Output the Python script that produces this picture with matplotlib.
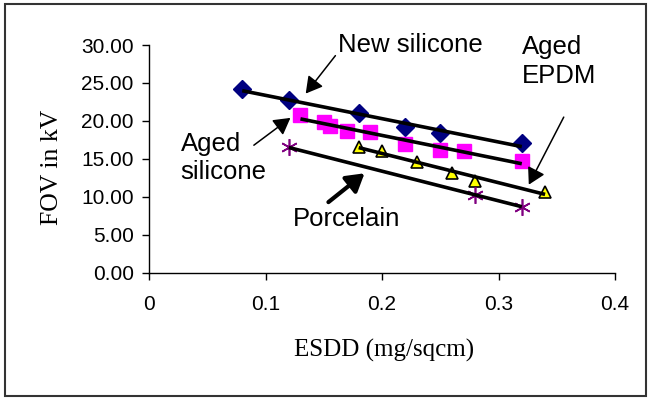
import numpy as np
import matplotlib
matplotlib.use("Agg")
import matplotlib.pyplot as plt
from matplotlib.patches import Rectangle

# FOV vs ESDD
new_sil_x = [0.08, 0.12, 0.18, 0.22, 0.25, 0.32]
new_sil_y = [24.2, 22.8, 21.0, 19.2, 18.4, 17.1]

aged_sil_x = [0.13, 0.15, 0.155, 0.17, 0.19, 0.22, 0.25, 0.27, 0.32]
aged_sil_y = [20.8, 19.8, 19.3, 18.7, 18.5, 17.0, 16.2, 16.1, 14.7]

epdm_x = [0.18, 0.20, 0.23, 0.26, 0.28, 0.34]
epdm_y = [16.5, 16.0, 14.6, 13.2, 12.1, 10.7]

porc_x = [0.12, 0.28, 0.32]
porc_y = [16.5, 10.25, 8.7]

x_ticks = [0, 0.1, 0.2, 0.3, 0.4]
x_tick_labels = ["0", "0.1", "0.2", "0.3", "0.4"]
y_ticks = [0, 5, 10, 15, 20, 25, 30]

SANS = "Liberation Sans"
SERIF = "Liberation Serif"

fig = plt.figure(figsize=(6.51, 3.99), dpi=100)
ax = fig.add_axes([0.2289, 0.3165, 0.7158, 0.5707])

# markers
ax.plot(new_sil_x, new_sil_y, ls="none", marker="D", ms=9,
        mfc="#000080", mec="#000080", zorder=3)
ax.plot(aged_sil_x, aged_sil_y, ls="none", marker="s", ms=9.5,
        mfc="#ff00ff", mec="#ff00ff", zorder=3)
ax.plot(epdm_x, epdm_y, ls="none", marker="^", ms=8.5,
        mfc="#ffff00", mec="black", mew=1.2, zorder=3)
ax.plot(porc_x, porc_y, ls="none", marker=(6, 2, 0), ms=12,
        mec="#800080", mew=1.2, zorder=3)

# linear trendlines over each series' range
for xs, ys in [(new_sil_x, new_sil_y), (aged_sil_x, aged_sil_y),
               (epdm_x, epdm_y), (porc_x, porc_y)]:
    k, b = np.polyfit(xs, ys, 1)
    xx = np.array([min(xs), max(xs)])
    ax.plot(xx, k * xx + b, color="black", lw=2.6, solid_capstyle="butt", zorder=4)

ax.set_xlim(0, 0.4)
ax.set_ylim(0, 30)
ax.set_xticks(x_ticks)
ax.set_xticklabels(x_tick_labels)
ax.set_yticks(y_ticks)
ax.set_yticklabels(["%.2f" % v for v in y_ticks])
for lab in ax.get_xticklabels() + ax.get_yticklabels():
    lab.set_fontfamily(SANS)
    lab.set_fontsize(15)
ax.tick_params(axis="both", direction="out", length=5, width=1, color="black")
ax.tick_params(axis="y", pad=6)
ax.tick_params(axis="x", pad=11)
for s in ["top", "right"]:
    ax.spines[s].set_visible(False)
for s in ["left", "bottom"]:
    ax.spines[s].set_linewidth(1)

fig.text(52 / 651, 1 - 167 / 399, "FOV in kV", rotation=90, ha="center",
         va="center", family=SERIF, fontsize=18.5)
fig.text(384 / 651, 1 - 350 / 399, "ESDD (mg/sqcm)", ha="center",
         va="center", family=SERIF, fontsize=18)

# labels with arrows
tk = dict(family=SANS, fontsize=18.5, ha="left", va="center", linespacing=1.25)
ax.text(0.162, 30.0, "New silicone", **tk)
ax.text(0.320, 27.8, "Aged\nEPDM", **tk)
ax.text(0.027, 15.1, "Aged\nsilicone", **tk)
ax.text(0.1235, 7.1, "Porcelain", **tk)

thin = dict(arrowstyle="-|>,head_length=0.67,head_width=0.38", color="black",
            lw=1.1, mutation_scale=15, shrinkA=0, shrinkB=0)
thick = dict(arrowstyle="-|>,head_length=0.7,head_width=0.42", color="black",
             lw=3, mutation_scale=15, shrinkA=0, shrinkB=0)
ax.annotate("", xy=(0.1345, 23.6), xytext=(0.160, 28.6), arrowprops=thin,
            annotation_clip=False)
ax.annotate("", xy=(0.326, 11.6), xytext=(0.356, 20.5), arrowprops=thin,
            annotation_clip=False)
ax.annotate("", xy=(0.1214, 20.4), xytext=(0.090, 16.8), arrowprops=thin,
            annotation_clip=False)
ax.annotate("", xy=(0.185, 13.1), xytext=(0.154, 9.3), arrowprops=thick,
            annotation_clip=False)

# outer frame
fig.patches.append(Rectangle((5 / 651, 3 / 399), 641 / 651, 392 / 399,
                             transform=fig.transFigure, fill=False,
                             edgecolor="#333333", lw=1.5))

fig.savefig("out.png", dpi=100)
